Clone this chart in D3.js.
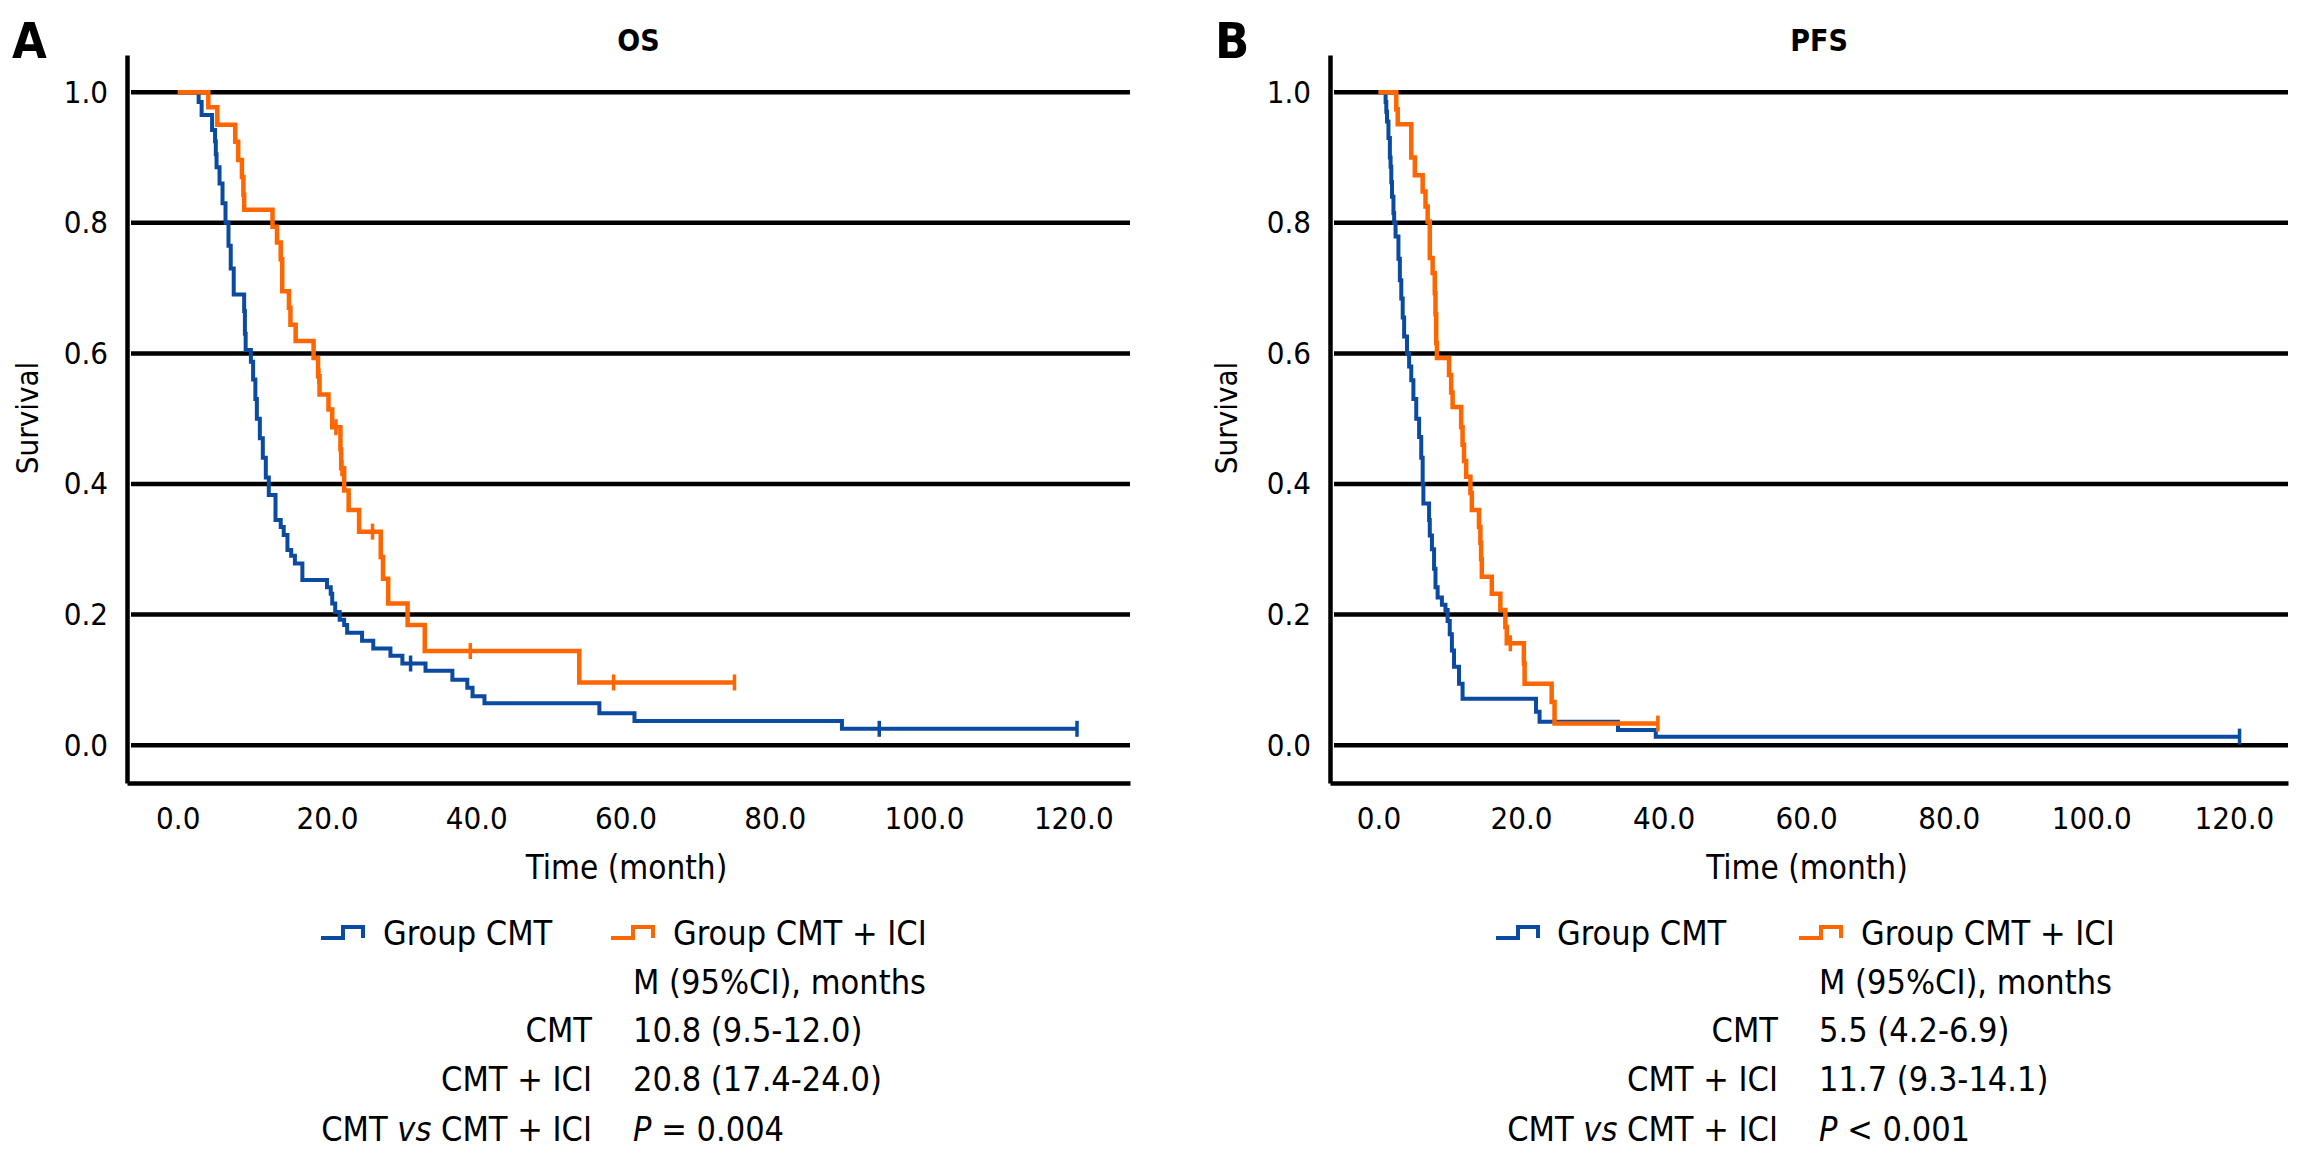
<!DOCTYPE html>
<html>
<head>
<meta charset="utf-8">
<script src="https://cdn.jsdelivr.net/npm/d3@7"></script>
<style>
body { margin: 0; background: #fff; }
text { font-family: "DejaVu Sans Condensed", "DejaVu Sans", sans-serif; fill: #000; }
</style>
</head>
<body>
<script>
// ---- data: [time (month), survival] ----
const osCmt = [[0,1],[2.8,.985],[3.2,.965],[4.6,.942],[5.0,.925],[5.1,.905],[5.2,.885],[5.6,.86],[6.0,.83],[6.4,.80],[6.8,.765],[7.1,.73],[7.5,.69],[8.9,.665],[9.0,.63],[9.1,.605],[9.8,.587],[10.1,.56],[10.4,.53],[10.6,.50],[11.0,.47],[11.4,.44],[11.8,.41],[12.2,.383],[13.1,.345],[13.8,.334],[14.2,.322],[14.7,.299],[15.2,.29],[15.7,.278],[16.7,.253],[20.0,.242],[20.5,.232],[20.7,.217],[21.1,.204],[21.7,.192],[22.3,.184],[22.7,.172],[24.7,.160],[26.2,.148],[28.5,.137],[30.1,.125],[33.2,.114],[36.8,.100],[38.8,.088],[39.5,.075],[41.1,.064],[56.5,.049],[61.2,.037],[89.0,.025],[120.5,.025]];
const osCmtCensor = [31.2, 94.0, 120.5];

const osIci = [[0,1],[4.1,.977],[5.3,.95],[7.7,.924],[8.1,.896],[8.6,.87],[8.8,.843],[8.9,.82],[12.7,.794],[13.3,.77],[13.8,.744],[14.0,.695],[14.9,.670],[15.1,.644],[15.8,.619],[18.2,.593],[18.8,.565],[19.0,.537],[20.2,.514],[20.7,.487],[21.8,.453],[21.9,.424],[22.3,.390],[22.9,.360],[24.3,.327],[27.2,.288],[27.5,.255],[28.2,.217],[30.8,.184],[33.1,.144],[53.8,.096],[74.6,.096]];
const osIciCensor = [18.9, 21.2, 22.0, 26.1, 39.2, 58.4, 74.6];

const pfsCmt = [[0,1],[1.0,.985],[1.1,.97],[1.2,.955],[1.4,.93],[1.6,.90],[1.7,.886],[1.8,.862],[1.9,.84],[2.1,.815],[2.2,.80],[2.4,.779],[2.8,.745],[3.0,.712],[3.2,.684],[3.4,.655],[3.6,.626],[4.0,.600],[4.3,.58],[4.6,.559],[4.9,.53],[5.3,.50],[5.7,.472],[6.0,.44],[6.2,.40],[6.3,.37],[7.1,.345],[7.2,.321],[7.5,.30],[7.8,.27],[8.0,.242],[8.3,.226],[8.9,.215],[9.4,.207],[9.7,.19],[10.0,.17],[10.3,.145],[10.6,.12],[11.3,.094],[11.8,.071],[22.1,.051],[22.6,.036],[33.6,.023],[38.9,.013],[120.8,.013]];
const pfsCmtCensor = [120.8];

const pfsIci = [[0,1],[2.5,.974],[2.7,.951],[4.6,.90],[5.1,.873],[6.2,.848],[6.6,.825],[6.9,.802],[7.2,.746],[7.6,.723],[7.9,.692],[8.0,.66],[8.1,.616],[8.2,.593],[9.9,.567],[10.2,.54],[10.4,.518],[11.6,.487],[11.8,.46],[12.0,.435],[12.3,.411],[12.9,.386],[13.1,.360],[14.1,.334],[14.3,.31],[14.4,.285],[14.5,.258],[15.9,.232],[17.1,.207],[17.8,.181],[18.0,.156],[20.4,.125],[20.5,.094],[24.3,.066],[24.7,.033],[39.2,.033]];
const pfsIciCensor = [18.5, 39.2];

const yTicks = [0, 0.2, 0.4, 0.6, 0.8, 1.0];
const xTicks = [0, 20, 40, 60, 80, 100, 120];
const groupNames = ["Group CMT", "Group CMT + ICI"];
const rowNames = ["CMT", "CMT + ICI"];
const osStats = ["10.8 (9.5-12.0)", "20.8 (17.4-24.0)", "= 0.004"];
const pfsStats = ["5.5 (4.2-6.9)", "11.7 (9.3-14.1)", "< 0.001"];

const BLUE = "#0a4aa0", ORANGE = "#ff6600";
const svg = d3.select("body").append("svg").attr("width", 2316).attr("height", 1160);

function survAt(curve, t) {
	let s = curve[0][1];
	curve.forEach(function(p){ if (p[0] <= t) s = p[1]; });
	return s;
}

function drawPanel(o) {
	const x = d3.scaleLinear().domain([-6.8, 127.6]).range([o.left, o.right]);
	const y = d3.scaleLinear().domain([-0.058, 1.057]).range([783, 55]);
	const g = svg.append("g");

	g.append("text").attr("x", o.letterX).attr("y", 58)
		.style("font-size", "50px").style("font-weight", "bold").text(o.letter);
	g.append("text").attr("x", (o.left + o.right) / 2 + 10).attr("y", 51)
		.attr("text-anchor", "middle").style("font-size", "30px").style("font-weight", "bold").text(o.title);

	// horizontal reference lines
	g.selectAll(".grid").data(yTicks).join("line")
		.attr("x1", o.left + 4).attr("x2", o.right)
		.attr("y1", d => y(d)).attr("y2", d => y(d))
		.attr("stroke", "#000").attr("stroke-width", 4.5);

	const ya = g.append("g").attr("transform", "translate(" + o.left + ",0)")
		.call(d3.axisLeft(y).tickValues(yTicks).tickFormat(d3.format(".1f")).tickSize(0).tickPadding(19));
	const xa = g.append("g").attr("transform", "translate(0,783)")
		.call(d3.axisBottom(x).tickValues(xTicks).tickFormat(d3.format(".1f")).tickSize(0).tickPadding(24));
	[ya, xa].forEach(function(a){
		a.select(".domain").attr("stroke", "#000").attr("stroke-width", 4.5);
		a.selectAll("text").style("font-size", "31px").style("font-family", null);
	});

	g.append("text").attr("transform", "translate(" + o.survX + ",418) rotate(-90)")
		.attr("text-anchor", "middle").attr("dy", "0.35em").style("font-size", "31px").text("Survival");
	g.append("text").attr("x", (o.left + o.right) / 2 - 2).attr("y", 867).attr("dy", "0.35em")
		.attr("text-anchor", "middle").style("font-size", "33px").text("Time (month)");

	const line = d3.line().x(d => x(d[0])).y(d => y(d[1])).curve(d3.curveStepAfter);
	[[o.cmt, o.cmtC, BLUE, 4], [o.ici, o.iciC, ORANGE, 4.5]].forEach(function(c){
		g.append("path").datum(c[0]).attr("d", line)
			.attr("fill", "none").attr("stroke", c[2]).attr("stroke-width", c[3]);
		g.selectAll(null).data(c[1]).join("line")
			.attr("x1", d => x(d)).attr("x2", d => x(d))
			.attr("y1", d => y(survAt(c[0], d)) - 8).attr("y2", d => y(survAt(c[0], d)) + 8)
			.attr("stroke", c[2]).attr("stroke-width", 3.5);
	});

	// legend
	[[o.symBlue, o.txtBlue, BLUE], [o.symOrange, o.txtOrange, ORANGE]].forEach(function(l, i){
		g.append("path")
			.attr("d", "M" + l[0] + ",938 H" + (l[0] + 22) + " V927 H" + (l[0] + 42) + " V938")
			.attr("fill", "none").attr("stroke", l[2]).attr("stroke-width", 4);
		g.append("text").attr("x", l[1]).attr("y", 933).attr("dy", "0.35em")
			.style("font-size", "34px").text(groupNames[i]);
	});

	// median table
	const rc = o.col - 41;
	const rows = [982, 1030, 1079, 1129];
	g.append("text").attr("x", o.col).attr("y", rows[0]).attr("dy", "0.35em")
		.style("font-size", "34px").text("M (95%CI), months");
	rowNames.forEach(function(n, i){
		g.append("text").attr("x", rc).attr("y", rows[i + 1]).attr("dy", "0.35em")
			.attr("text-anchor", "end").style("font-size", "34px").text(n);
		g.append("text").attr("x", o.col).attr("y", rows[i + 1]).attr("dy", "0.35em")
			.style("font-size", "34px").text(o.stats[i]);
	});
	const t1 = g.append("text").attr("x", rc).attr("y", rows[3]).attr("dy", "0.35em")
		.attr("text-anchor", "end").style("font-size", "34px");
	t1.append("tspan").text("CMT ");
	t1.append("tspan").style("font-style", "italic").text("vs");
	t1.append("tspan").text(" CMT + ICI");
	const t2 = g.append("text").attr("x", o.col).attr("y", rows[3]).attr("dy", "0.35em")
		.style("font-size", "34px");
	t2.append("tspan").style("font-style", "italic").text("P");
	t2.append("tspan").text(" " + o.stats[2]);
}

drawPanel({letter: "A", letterX: 12, title: "OS", left: 127, right: 1130, survX: 27,
	cmt: osCmt, cmtC: osCmtCensor, ici: osIci, iciC: osIciCensor, stats: osStats,
	symBlue: 321, txtBlue: 383, symOrange: 611, txtOrange: 673, col: 633});
drawPanel({letter: "B", letterX: 1215, title: "PFS", left: 1330, right: 2288, survX: 1226,
	cmt: pfsCmt, cmtC: pfsCmtCensor, ici: pfsIci, iciC: pfsIciCensor, stats: pfsStats,
	symBlue: 1496, txtBlue: 1557, symOrange: 1799, txtOrange: 1861, col: 1819});
</script>
</body>
</html>
